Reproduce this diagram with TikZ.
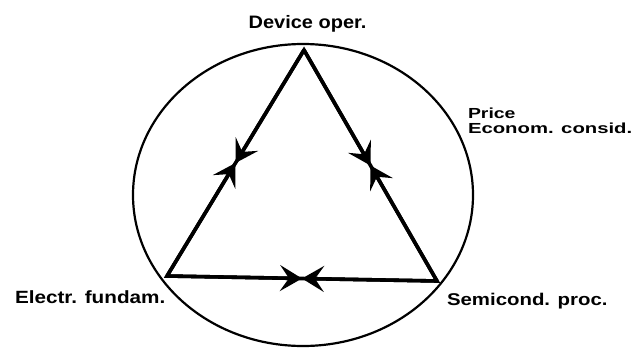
\documentclass[tikz,border=0pt]{standalone}
\usepackage{fontspec}
\setmainfont{Liberation Sans}
\usetikzlibrary{arrows.meta,shapes.geometric,calc}
\tikzset{
  lbl/.style={inner sep=0pt, outer sep=0pt, font=\bfseries},
  edge/.style={line width=3.6pt, line join=miter},
  halfarrow/.style={line width=3.6pt, -{Stealth[length=22pt,width=26pt,inset=9pt]}},
  ring/.style={draw, ellipse, line width=2.2pt, inner sep=0pt, minimum width=340pt, minimum height=302pt}
}
\begin{document}
\begin{tikzpicture}[x=1pt,y=-1pt]
\useasboundingbox (0,0) rectangle (639,348);
\node[ring] (ring) at (303,195) {};
\coordinate (T) at (304,50);
\coordinate (L) at (167,276);
\coordinate (R) at (437,281);
\draw[edge] (T) -- (L) -- (R) -- cycle;
\coordinate (mTL) at ($(T)!0.5!(L)$);
\coordinate (mTR) at ($(T)!0.5!(R)$);
\coordinate (mLR) at ($(L)!0.5!(R)$);
\draw[halfarrow] (T) -- (mTL);
\draw[halfarrow] (L) -- (mTL);
\draw[halfarrow] (T) -- (mTR);
\draw[halfarrow] (R) -- (mTR);
\draw[halfarrow] (L) -- (mLR);
\draw[halfarrow] (R) -- (mLR);
\node[lbl, anchor=base, font=\bfseries\fontsize{18}{20}\selectfont] (dev) at (307.5,28) {\scalebox{1.11}[1]{Device oper.}};
\node[lbl, anchor=base west, font=\bfseries\fontsize{17.7}{20}\selectfont] (ele) at (15,303) {\scalebox{1.17}[1]{Electr. fundam.}};
\node[lbl, anchor=base west, font=\bfseries\fontsize{17}{20}\selectfont] (sem) at (447,305) {\scalebox{1.2}[1]{Semicond. proc.}};
\node[lbl, anchor=base west, font=\bfseries\fontsize{14.6}{16}\selectfont] (pri) at (468,118) {\scalebox{1.33}[1]{Price}};
\node[lbl, anchor=base west, font=\bfseries\fontsize{14.6}{16}\selectfont] (eco) at (468,133) {\scalebox{1.39}[1]{Econom. consid.}};
\end{tikzpicture}
\end{document}
